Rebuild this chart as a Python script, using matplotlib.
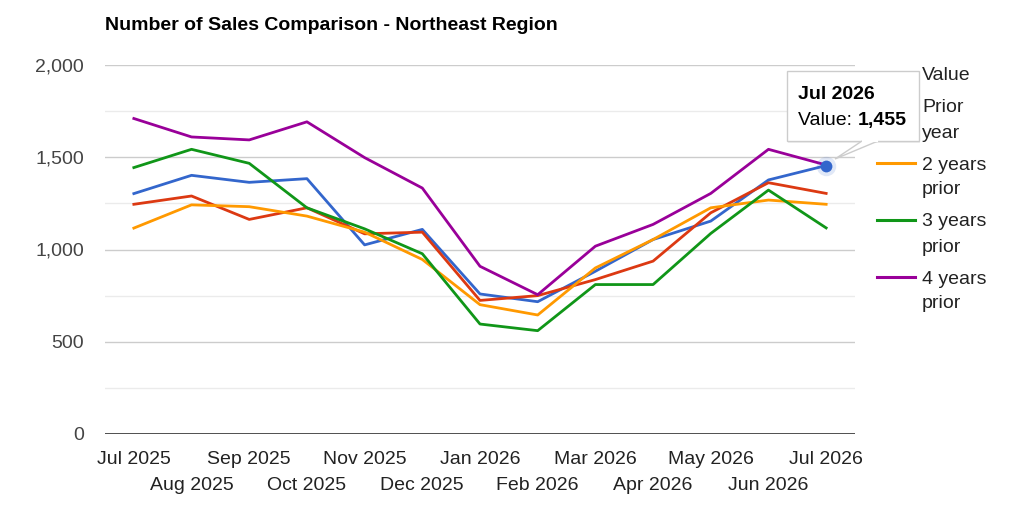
import matplotlib
matplotlib.use("Agg")
import matplotlib.pyplot as plt
from matplotlib.lines import Line2D
from matplotlib.patches import Rectangle, Polygon

plt.rcParams["font.family"] = ["Liberation Sans", "DejaVu Sans"]

months = ["Jul 2025", "Aug 2025", "Sep 2025", "Oct 2025", "Nov 2025", "Dec 2025",
          "Jan 2026", "Feb 2026", "Mar 2026", "Apr 2026", "May 2026", "Jun 2026", "Jul 2026"]

value = [1303, 1402, 1364, 1384, 1025, 1109, 759, 717, 882, 1054, 1154, 1377, 1455]
prior_year = [1245, 1290, 1163, 1226, 1085, 1094, 724, 750, 837, 937, 1199, 1362, 1304]
two_years = [1116, 1242, 1232, 1181, 1094, 946, 701, 645, 900, 1054, 1226, 1268, 1245]
three_years = [1444, 1543, 1467, 1226, 1112, 977, 596, 560, 810, 810, 1087, 1322, 1117]
four_years = [1710, 1610, 1594, 1692, 1498, 1333, 909, 755, 1018, 1136, 1304, 1543, 1458]

series_names = [["Value"], ["Prior", "year"], ["2 years", "prior"],
                ["3 years", "prior"], ["4 years", "prior"]]
colors = ["#3366cc", "#dc3912", "#ff9900", "#109618", "#990099"]

W, H = 1013, 523


def fx(px):
    return px / W


def fy(py):
    return 1 - py / H


fig = plt.figure(figsize=(W / 100, H / 100), dpi=100)
ax = fig.add_axes([fx(105), fy(434), fx(855) - fx(105), fy(65) - fy(434)])

x = list(range(len(months)))
for data, c in zip([value, prior_year, two_years, three_years, four_years], colors):
    ax.plot(x, data, color=c, linewidth=2.0, solid_joinstyle="round", zorder=3)

# highlighted point
ax.plot([x[-1]], [value[-1]], "o", color=colors[0], markersize=14, alpha=0.15,
        markeredgewidth=0, zorder=4, clip_on=False)
ax.plot([x[-1]], [value[-1]], "o", color=colors[0], markersize=8.5,
        markeredgewidth=0, zorder=5, clip_on=False)

ax.set_xlim(-0.5, 12.5)
ax.set_ylim(0, 2000)

ax.set_yticks([0, 500, 1000, 1500, 2000])
ax.set_yticklabels(["0", "500", "1,000", "1,500", "2,000"])
ax.set_yticks([250, 750, 1250, 1750], minor=True)
ax.grid(True, which="major", axis="y", color="#cccccc", linewidth=1)
ax.grid(True, which="minor", axis="y", color="#ebebeb", linewidth=1)
ax.axhline(0, color="#333333", linewidth=1.2, zorder=2)
ax.set_axisbelow(True)

ax.set_xticks(x[0::2])
ax.set_xticklabels(months[0::2])
ax.set_xticks(x[1::2], minor=True)
ax.set_xticklabels(months[1::2], minor=True)

ax.tick_params(axis="y", which="both", length=0, pad=15, labelsize=14, labelcolor="#444444")
ax.tick_params(axis="x", which="major", length=0, pad=12, labelsize=14, labelcolor="#222222")
ax.tick_params(axis="x", which="minor", length=0, pad=31, labelsize=14, labelcolor="#222222")

for s in ax.spines.values():
    s.set_visible(False)

fig.text(fx(105), fy(25), "Number of Sales Comparison - Northeast Region",
         fontsize=14, fontweight="bold", color="#000000", va="center", ha="left")

# legend
row_y = [73, 106, 163, 220, 277]
for lines, c, ry in zip(series_names, colors, row_y):
    fig.add_artist(Line2D([fx(877), fx(915)], [fy(ry), fy(ry)], color=c,
                          linewidth=2.2, zorder=1))
    for i, txt in enumerate(lines):
        fig.text(fx(922), fy(ry + 2 + 25 * i), txt, fontsize=14, color="#222222",
                 va="center", ha="left", zorder=1)

# tooltip
shadow = Rectangle((fx(788), fy(143)), fx(919) - fx(787), fy(72) - fy(141),
                   facecolor="#000000", alpha=0.06, edgecolor="none", zorder=9)
fig.add_artist(shadow)
box = Rectangle((fx(787), fy(141)), fx(919) - fx(787), fy(71) - fy(141),
                facecolor="white", edgecolor="#cccccc", linewidth=1, zorder=10)
fig.add_artist(box)
tail = Polygon([(fx(862), fy(141)), (fx(835), fy(159)), (fx(878), fy(141))],
               closed=False, facecolor="white", edgecolor="#cccccc", linewidth=1, zorder=11)
fig.add_artist(tail)
fig.add_artist(Line2D([fx(863), fx(877)], [fy(141), fy(141)], color="white",
                      linewidth=1.5, zorder=12))

fig.text(fx(798), fy(95), "Jul 2026", fontsize=14, fontweight="bold", color="#000000",
         va="center", ha="left", zorder=13)
t1 = fig.text(fx(798), fy(121), "Value: ", fontsize=14, color="#000000",
              va="center", ha="left", zorder=13)
renderer = fig.canvas.get_renderer()
bb = t1.get_window_extent(renderer)
fig.text(bb.x1 / W, fy(121), f"{value[-1]:,}", fontsize=14, fontweight="bold",
         color="#000000", va="center", ha="left", zorder=13)

fig.savefig("out.png", dpi=100)
